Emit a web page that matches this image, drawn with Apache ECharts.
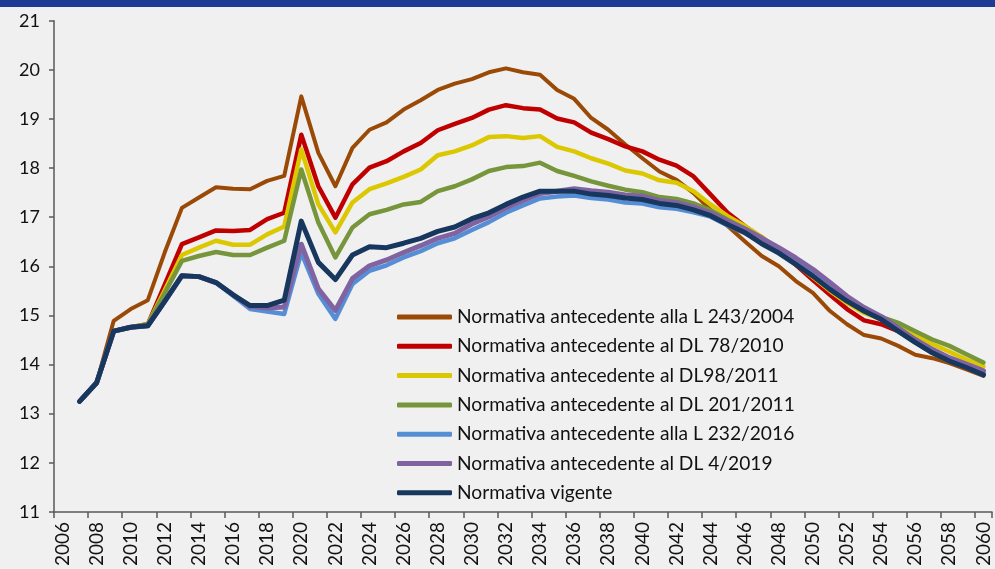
<!DOCTYPE html>
<html>
<head>
<meta charset="utf-8">
<script src="https://cdn.jsdelivr.net/npm/echarts@6/dist/echarts.min.js"></script>
<style>
html,body{margin:0;padding:0;background:#f0f0f0;}
#chart{width:995px;height:569px;}
</style>
</head>
<body>
<div id="chart"></div>
<script>
// Categories (years)
const years = [];
for (let y = 2006; y <= 2060; y++) years.push(String(y));

// Series values, 2006 .. 2060 (2006 has no value)
const seriesNames = [
  'Normativa antecedente alla L 243/2004',
  'Normativa antecedente al DL 78/2010',
  'Normativa antecedente al DL98/2011',
  'Normativa antecedente al DL 201/2011',
  'Normativa antecedente alla L 232/2016',
  'Normativa antecedente al DL 4/2019',
  'Normativa vigente'
];

const L243_2004 = [null,
  13.25, 13.63, 14.89, 15.13, 15.31, 16.29, 17.19, 17.40, 17.61, 17.58,
  17.57, 17.74, 17.84, 19.46, 18.31, 17.63, 18.41, 18.78, 18.93, 19.19,
  19.38, 19.59, 19.72, 19.81, 19.95, 20.03, 19.95, 19.90, 19.59, 19.41,
  19.02, 18.78, 18.48, 18.20, 17.93, 17.76, 17.49, 17.15, 16.82, 16.51,
  16.21, 16.00, 15.70, 15.46, 15.09, 14.82, 14.60, 14.53, 14.38, 14.20,
  14.13, 14.03, 13.90, 13.77];

const DL78_2010 = [null,
  13.25, 13.63, 14.68, 14.76, 14.82, 15.63, 16.45, 16.59, 16.73, 16.72,
  16.74, 16.96, 17.09, 18.68, 17.63, 16.99, 17.67, 18.01, 18.14, 18.34,
  18.51, 18.77, 18.90, 19.02, 19.19, 19.28, 19.22, 19.19, 19.01, 18.93,
  18.72, 18.59, 18.44, 18.34, 18.17, 18.05, 17.83, 17.46, 17.09, 16.82,
  16.58, 16.32, 16.03, 15.72, 15.42, 15.13, 14.90, 14.82, 14.68, 14.49,
  14.30, 14.13, 13.99, 13.86];

const DL98_2011 = [null,
  13.25, 13.63, 14.68, 14.76, 14.82, 15.52, 16.23, 16.38, 16.52, 16.44,
  16.44, 16.65, 16.81, 18.38, 17.26, 16.69, 17.30, 17.57, 17.69, 17.82,
  17.97, 18.26, 18.34, 18.46, 18.63, 18.65, 18.61, 18.65, 18.43, 18.34,
  18.20, 18.09, 17.95, 17.89, 17.75, 17.70, 17.53, 17.26, 17.02, 16.82,
  16.60, 16.31, 16.05, 15.78, 15.50, 15.25, 15.05, 14.92, 14.78, 14.60,
  14.42, 14.26, 14.10, 13.96];

const DL201_2011 = [null,
  13.25, 13.63, 14.68, 14.76, 14.82, 15.46, 16.11, 16.21, 16.29, 16.23,
  16.23, 16.38, 16.52, 17.97, 16.89, 16.18, 16.79, 17.06, 17.15, 17.26,
  17.31, 17.53, 17.63, 17.77, 17.94, 18.02, 18.04, 18.11, 17.94, 17.84,
  17.73, 17.64, 17.56, 17.51, 17.41, 17.37, 17.28, 17.14, 16.95, 16.77,
  16.58, 16.35, 16.13, 15.90, 15.63, 15.36, 15.10, 14.97, 14.85, 14.68,
  14.51, 14.38, 14.21, 14.04];

const L232_2016 = [null,
  13.25, 13.63, 14.68, 14.76, 14.79, 15.29, 15.81, 15.79, 15.67, 15.40,
  15.13, 15.08, 15.03, 16.28, 15.44, 14.93, 15.64, 15.91, 16.02, 16.18,
  16.31, 16.47, 16.57, 16.74, 16.90, 17.09, 17.24, 17.38, 17.42, 17.44,
  17.39, 17.36, 17.30, 17.28, 17.20, 17.17, 17.10, 17.01, 16.83, 16.68,
  16.49, 16.30, 16.07, 15.83, 15.56, 15.31, 15.09, 14.92, 14.68, 14.45,
  14.24, 14.07, 13.94, 13.79];

const DL4_2019 = [null,
  13.25, 13.63, 14.68, 14.76, 14.79, 15.29, 15.81, 15.79, 15.67, 15.42,
  15.18, 15.15, 15.17, 16.45, 15.54, 15.10, 15.75, 16.01, 16.13, 16.28,
  16.42, 16.57, 16.67, 16.86, 17.01, 17.19, 17.34, 17.48, 17.53, 17.58,
  17.54, 17.51, 17.45, 17.43, 17.34, 17.30, 17.21, 17.09, 16.92, 16.76,
  16.57, 16.38, 16.17, 15.94, 15.67, 15.39, 15.16, 14.98, 14.75, 14.51,
  14.31, 14.14, 14.01, 13.87];

const vigente = [null,
  13.25, 13.63, 14.68, 14.76, 14.79, 15.29, 15.81, 15.79, 15.67, 15.42,
  15.20, 15.20, 15.31, 16.92, 16.08, 15.73, 16.23, 16.40, 16.38, 16.47,
  16.57, 16.71, 16.80, 16.97, 17.09, 17.26, 17.41, 17.53, 17.53, 17.53,
  17.47, 17.44, 17.39, 17.36, 17.28, 17.24, 17.15, 17.03, 16.85, 16.69,
  16.46, 16.27, 16.04, 15.80, 15.53, 15.29, 15.09, 14.92, 14.68, 14.45,
  14.24, 14.07, 13.94, 13.79];

const allData = [L243_2004, DL78_2010, DL98_2011, DL201_2011, L232_2016, DL4_2019, vigente];
const colors = ['#9a4a06', '#c00000', '#dcc800', '#77963c', '#558ed5', '#8064a2', '#17375e'];
const widths = [4, 4.5, 4.5, 4.5, 4.5, 5, 5];

const FONT = 'Lato';

const chart = echarts.init(document.getElementById('chart'), null, {renderer: 'canvas'});
chart.setOption({
  backgroundColor: '#f0f0f0',
  animation: false,
  textStyle: {fontFamily: FONT},
  graphic: [{
    type: 'rect', left: 0, top: 0, silent: true,
    shape: {width: 995, height: 7},
    style: {fill: '#1f3a93'}
  }],
  grid: {left: 54, right: 3, top: 20.7, bottom: 56, containLabel: false},
  legend: {
    orient: 'vertical',
    left: 397, top: 307,
    padding: 0,
    itemWidth: 55, itemHeight: 5,
    itemGap: 9.3,
    icon: 'roundRect',
    textStyle: {fontFamily: FONT, fontSize: 19.2, color: '#111', lineHeight: 20},
    data: seriesNames
  },
  xAxis: {
    type: 'category',
    data: years,
    boundaryGap: true,
    axisLine: {lineStyle: {color: '#595959', width: 1.5}},
    axisTick: {show: true, interval: 1, length: 6, lineStyle: {color: '#595959', width: 1.5}},
    axisLabel: {interval: 1, rotate: 90, fontSize: 19, margin: 10, color: '#111', fontFamily: FONT},
    splitLine: {show: false}
  },
  yAxis: {
    type: 'value',
    min: 11, max: 21, interval: 1,
    axisLine: {show: true, lineStyle: {color: '#595959', width: 1.5}},
    axisTick: {show: true, length: 5, lineStyle: {color: '#595959', width: 1.5}},
    axisLabel: {fontSize: 18, margin: 14, color: '#111', fontFamily: FONT},
    splitLine: {show: false}
  },
  series: seriesNames.map((name, i) => ({
    name: name,
    type: 'line',
    data: allData[i],
    symbol: 'none',
    smooth: false,
    z: 2 + i,
    itemStyle: {color: colors[i]},
    lineStyle: {color: colors[i], width: widths[i], join: 'round', cap: 'round'}
  }))
});
</script>
</body>
</html>
